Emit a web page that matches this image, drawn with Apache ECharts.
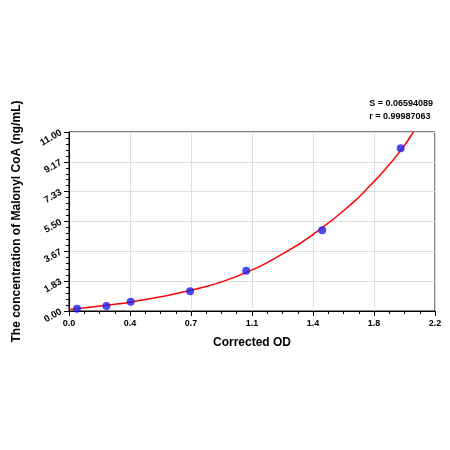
<!DOCTYPE html><html><head><meta charset="utf-8"><script src="https://cdn.jsdelivr.net/npm/echarts@6/dist/echarts.min.js"></script></head><body style="margin:0;background:#fff"><div id="c" style="width:450px;height:450px"></div><script>
const pointsX=[0.048,0.225,0.371,0.728,1.065,1.522,1.994];
const pointsY=[0.14,0.31,0.57,1.21,2.48,4.96,10.0];
const curveX=[0,0.2,0.4,0.7,1.0,1.3,1.5,1.7,1.8,1.9,2.0,2.07];
const curveY=[0.1,0.32,0.6,1.2,2.1,3.6,4.95,6.6,7.6,8.7,9.95,11.0];
const xTicks=['0.0','0.4','0.7','1.1','1.4','1.8','2.2'];
const yTicks=['0.00','1.83','3.67','5.50','7.33','9.17','11.00'];
const stats=['S = 0.06594089','r = 0.99987063'];
const c=echarts.init(document.getElementById('c'));
c.setOption({animation:false,
graphic:[{type:'text',right:17,top:97,style:{text:stats.join('\n'),font:'bold 9px Arial',fill:'#000',align:'right',lineHeight:13}}],
grid:{left:69,right:15,top:132,bottom:139,show:true,borderColor:'#000',borderWidth:1},
xAxis:{type:'value',min:0,max:2.2,interval:2.2/6,name:'Corrected OD',nameLocation:'middle',nameGap:26,nameTextStyle:{fontWeight:'bold',fontSize:12,color:'#000'},
axisLine:{lineStyle:{color:'#000'}},axisTick:{lineStyle:{color:'#000'}},minorTick:{show:true,splitNumber:4,lineStyle:{color:'#000'}},
axisLabel:{color:'#000',fontWeight:'bold',fontSize:9,formatter:v=>xTicks[Math.round(v/(2.2/6))]},splitLine:{lineStyle:{color:'#ddd'}}},
yAxis:{type:'value',min:0,max:11,interval:11/6,name:'The concentration of Malonyl CoA (ng/mL)',nameLocation:'middle',nameGap:46,nameTextStyle:{fontWeight:'bold',fontSize:12,color:'#000'},
axisLine:{show:true,lineStyle:{color:'#000'}},axisTick:{show:true,lineStyle:{color:'#000'}},minorTick:{show:true,splitNumber:5,lineStyle:{color:'#000'}},
axisLabel:{color:'#000',fontWeight:'bold',fontSize:9.5,rotate:30,formatter:(v)=>yTicks[Math.round(v/(11/6))]},splitLine:{lineStyle:{color:'#ddd'}}},
series:[{type:'line',data:curveX.map((x,i)=>[x,curveY[i]]),smooth:true,symbol:'none',lineStyle:{color:'#ff0000',width:1.5},z:2},
{type:'scatter',data:pointsX.map((x,i)=>[x,pointsY[i]]),symbolSize:8,itemStyle:{color:'#1f1fe6'},z:3}]});
</script></body></html>
